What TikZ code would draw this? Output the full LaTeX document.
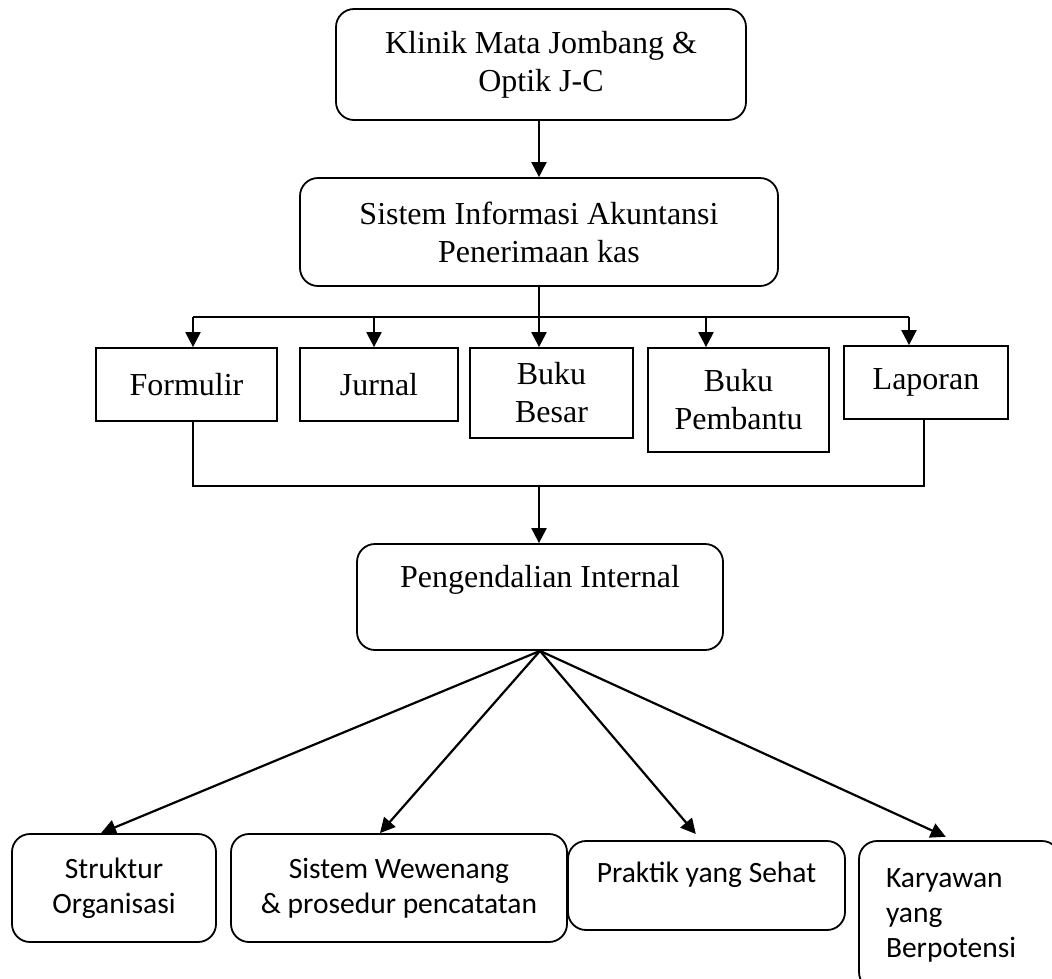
\documentclass[tikz,border=0pt]{standalone}
\usepackage{fontspec}
\usetikzlibrary{arrows.meta}
\newfontfamily\timesfont{Liberation Serif}
\newfontfamily\calfont{Carlito}

\begin{document}
\begin{tikzpicture}
  [x=1pt,y=-1pt,line width=1.8pt,
   box/.style={draw,inner sep=0pt,align=center,
     font=\timesfont\fontsize{32}{38}\selectfont},
   rbox/.style={box,rounded corners=18pt},
   lbox/.style={rbox,font=\calfont\fontsize{29.5}{35}\selectfont},
   arr/.style={-{Triangle[length=15pt,width=15pt]},line width=2.2pt}]
  \useasboundingbox (0,0) rectangle (1052,978);

  \node[rbox,minimum width=410pt,minimum height=111pt] (klinik) at (541,64.5) {Klinik Mata Jombang \&\\Optik J-C};
  \node[rbox,minimum width=478pt,minimum height=108pt] (sia) at (539,232) {Sistem Informasi Akuntansi\\Penerimaan kas};

  \node[box,minimum width=181pt,minimum height=73pt] (form) at (186.5,384.5) {Formulir};
  \node[box,minimum width=158pt,minimum height=73pt] (jurnal) at (379,384.5) {Jurnal};
  \node[box,minimum width=163pt,minimum height=90pt] (besar) at (551.5,393) {Buku\\Besar};
  \node[box,minimum width=181pt,minimum height=104pt] (pemb) at (738.5,400) {Buku\\Pembantu};
  \node[box,minimum width=164pt,minimum height=73pt] (lap) at (926,382.5) {Laporan};

  \node[rbox,minimum width=366pt,minimum height=106pt] (peng) at (540,597) {Pengendalian Internal\\[4pt]\mbox{}};

  \node[lbox,minimum width=204pt,minimum height=108pt] (struk) at (114,888) {Struktur\\Organisasi};
  \node[lbox,minimum width=336pt,minimum height=108pt] (wew) at (399,888) {Sistem Wewenang\\\& prosedur pencatatan};
  \node[lbox,minimum width=277pt,minimum height=89pt] (prak) at (706.5,885.5) {Praktik yang Sehat\\[-8pt]\mbox{}};
  \node[lbox,align=left,text width=147pt,minimum width=201pt,minimum height=149pt] (kary) at (959.5,915.5) {Karyawan\\yang\\Berpotensi};

  \coordinate (bus) at (539,317);
  \coordinate (join) at (539,486);

  \draw[arr] (sia.north |- klinik.south) -- (sia.north);
  \draw (sia.south) -- (bus);
  \draw ([xshift=6.5pt]form.north |- bus) -- ([xshift=-17pt]lap.north |- bus);
  \foreach \to/\dx in {form/6.5,jurnal/-5,besar/-12.5,pemb/-32.5,lap/-17}
    \draw[arr] ([xshift=\dx pt]\to.north |- bus) -- ([xshift=\dx pt]\to.north);

  \draw ([xshift=6.5pt]form.south) -- ([xshift=6.5pt]form.south |- join)
    -- ([xshift=-2pt]lap.south |- join) -- ([xshift=-2pt]lap.south);
  \draw[arr] (join) -- (peng.north -| join);

  \foreach \to/\dx/\sh in {struk/-13/0,wew/-19/0,prak/-5.5/8,kary/-6.5/8}
    \draw[arr,shorten >=\sh pt] (peng.south) -- ([xshift=\dx pt]\to.north);
\end{tikzpicture}
\end{document}
